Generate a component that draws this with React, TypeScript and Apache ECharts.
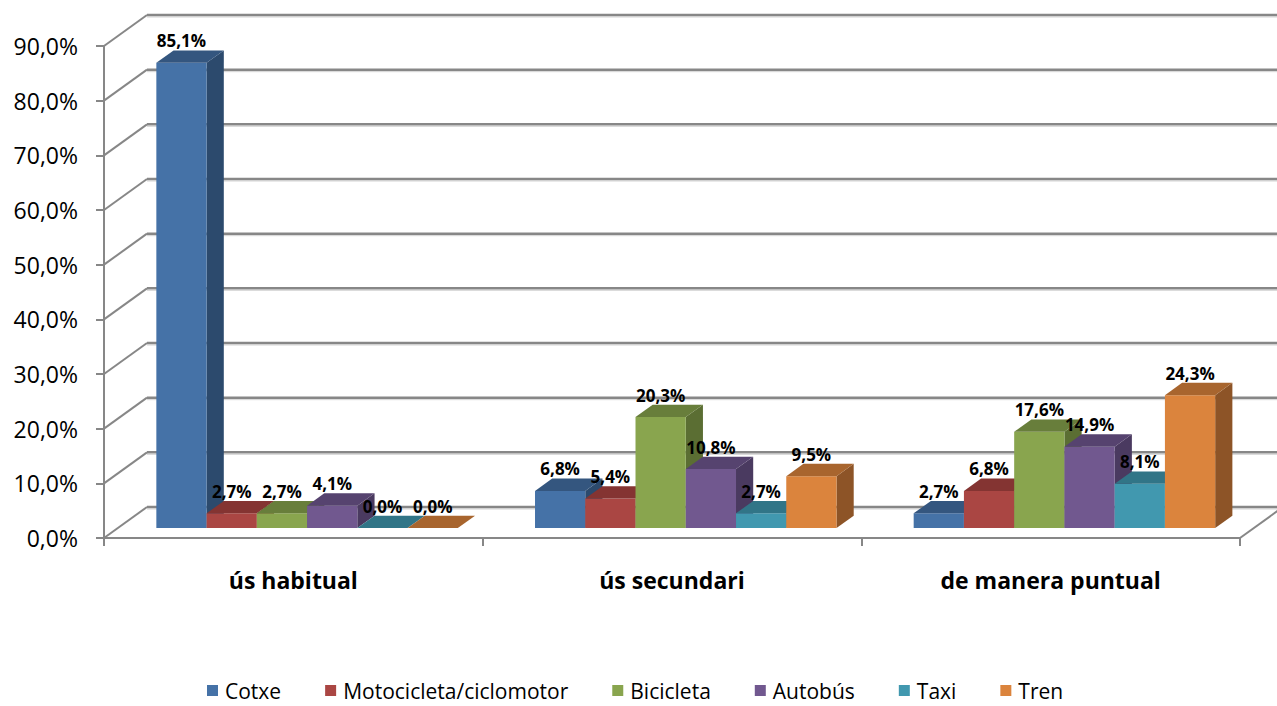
import React, { useEffect, useRef } from "react";
import * as echarts from "echarts";

const categories = ["ús habitual", "ús secundari", "de manera puntual"];
const seriesNames = ["Cotxe", "Motocicleta/ciclomotor", "Bicicleta", "Autobús", "Taxi", "Tren"];
const cotxe = [85.1, 6.8, 2.7];
const moto = [2.7, 5.4, 6.8];
const bicicleta = [2.7, 20.3, 17.6];
const autobus = [4.1, 10.8, 14.9];
const taxi = [0.0, 2.7, 8.1];
const tren = [0.0, 9.5, 24.3];
const seriesValues = [cotxe, moto, bicicleta, autobus, taxi, tren];
const yTicks = [0, 10, 20, 30, 40, 50, 60, 70, 80, 90];

const frontColors = ["#4572A7", "#AA4643", "#89A54E", "#71588F", "#4198AF", "#DB843D"];
const topColors = ["#34567F", "#843432", "#687E3B", "#56436F", "#317587", "#A8652E"];
const sideColors = ["#2C4A6D", "#72302E", "#5B6E33", "#4A3A60", "#2A6574", "#8D5427"];

const DX = 43;
const DY = -31;
const F0 = 0.32;
const F1 = 0.72;
const FONT = '"Open Sans", "Noto Sans", sans-serif';
const GRID = "#878787";

const fmt = (v: number) => v.toFixed(1).replace(".", ",") + "%";

export default function App() {
  const ref = useRef<HTMLDivElement>(null);
  useEffect(() => {
    document.body.style.margin = "0";
    const chart = echarts.init(ref.current!, null, { renderer: "svg" });

    const wallSeries: any = {
      type: "custom",
      name: "walls",
      z: 1,
      silent: true,
      data: yTicks.map((v) => [0, v]),
      encode: { x: 0, y: 1 },
      renderItem: (params: any, api: any) => {
        const v = api.value(1);
        const band = api.size([1, 0])[0];
        const c = api.coord([0, v]);
        const left = c[0] - band / 2;
        const right = left + band * categories.length;
        const y = c[1];
        const children: any[] = [
          {
            type: "line",
            shape: { x1: left, y1: y, x2: left + DX, y2: y + DY },
            style: { stroke: GRID, lineWidth: 2 },
          },
          {
            type: "line",
            shape: { x1: left + DX, y1: y + DY + 2, x2: right + DX, y2: y + DY + 2 },
            style: { stroke: "#D4D4D4", lineWidth: 1 },
          },
          {
            type: "line",
            shape: { x1: left + DX, y1: y + DY, x2: right + DX, y2: y + DY },
            style: { stroke: GRID, lineWidth: 2.5 },
          },
        ];
        if (v === 0) {
          children.push({
            type: "line",
            shape: { x1: right, y1: y, x2: right + DX, y2: y + DY },
            style: { stroke: GRID, lineWidth: 2 },
          });
        }
        return { type: "group", children };
      },
    };

    const barSeries = seriesNames.map((name, si) => ({
      type: "custom",
      name,
      z: 3,
      itemStyle: { color: frontColors[si] },
      data: seriesValues[si].map((v, i) => [i, v]),
      encode: { x: 0, y: 1 },
      renderItem: (params: any, api: any) => {
        const cat = api.value(0);
        const v = api.value(1);
        const band = api.size([1, 0])[0];
        const base = api.coord([cat, 0]);
        const top = api.coord([cat, v]);
        const left = base[0] - band / 2;
        const barW = band * 0.1327;
        const gap = (band - seriesNames.length * barW) / 2;
        const x0 = left + F0 * DX + gap + si * barW;
        const x1 = x0 + barW;
        const yb = base[1] + F0 * DY;
        const yt = top[1] + F0 * DY;
        const ddx = (F1 - F0) * DX;
        const ddy = (F1 - F0) * DY;
        return {
          type: "group",
          children: [
            {
              type: "polygon",
              z2: si * 10 + 1,
              shape: {
                points: [
                  [x1, yt],
                  [x1 + ddx, yt + ddy],
                  [x1 + ddx, yb + ddy],
                  [x1, yb],
                ],
              },
              style: { fill: sideColors[si] },
            },
            {
              type: "rect",
              z2: si * 10 + 2,
              shape: { x: x0, y: yt, width: barW, height: Math.max(yb - yt, 0) },
              style: { fill: frontColors[si] },
            },
            {
              type: "polygon",
              z2: si * 10 + 3,
              shape: {
                points: [
                  [x0, yt],
                  [x0 + ddx, yt + ddy],
                  [x1 + ddx, yt + ddy],
                  [x1, yt],
                ],
              },
              style: { fill: topColors[si] },
            },
            {
              type: "text",
              z2: 1000,
              style: {
                text: fmt(v),
                x: (x0 + x1) / 2,
                y: yt - 22,
                align: "center",
                verticalAlign: "middle",
                fontSize: 17,
                fontWeight: "bold",
                fontFamily: FONT,
                fill: "#000",
              },
            },
          ],
        };
      },
    }));

    chart.setOption({
      animation: false,
      backgroundColor: "#fff",
      grid: { left: 104, top: 46, right: 37, bottom: 168 },
      legend: {
        data: seriesNames,
        left: 207,
        top: 680,
        padding: 0,
        icon: "rect",
        itemWidth: 11,
        itemHeight: 11,
        itemGap: 44,
        textStyle: {
          fontSize: 21,
          lineHeight: 21,
          fontFamily: FONT,
          color: "#000",
          padding: [0, 0, 0, 2],
        },
      },
      xAxis: {
        type: "category",
        data: categories,
        boundaryGap: true,
        axisLine: { show: true, lineStyle: { color: GRID, width: 2 } },
        axisTick: { show: true, length: 8, interval: 0, lineStyle: { color: GRID, width: 2 } },
        axisLabel: {
          margin: 30,
          fontSize: 23,
          fontWeight: "bold",
          fontFamily: FONT,
          color: "#000",
        },
        splitLine: { show: false },
      },
      yAxis: {
        type: "value",
        min: 0,
        max: 90,
        interval: 10,
        axisLine: { show: true, lineStyle: { color: GRID, width: 2 } },
        axisTick: { show: true, length: 8, lineStyle: { color: GRID, width: 2 } },
        axisLabel: {
          margin: 26,
          fontSize: 23,
          fontFamily: FONT,
          color: "#000",
          formatter: (v: number) => fmt(v),
        },
        splitLine: { show: false },
      },
      series: [wallSeries, ...barSeries],
    });
    return () => chart.dispose();
  }, []);
  return <div ref={ref} style={{ width: 1277, height: 706 }} />;
}
